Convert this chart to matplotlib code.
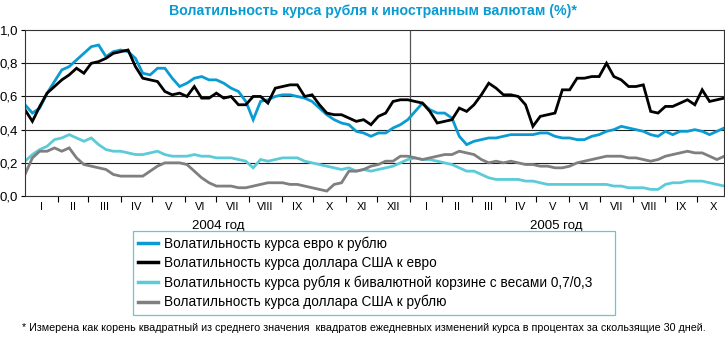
import matplotlib
matplotlib.use('Agg')
import matplotlib.dates as mdates
import matplotlib.pyplot as plt
import numpy as np
import pandas as pd

plt.rcParams['font.family'] = ['Liberation Sans', 'DejaVu Sans']

# weekly readings, Jan 2004 - Oct 2005
weeks = pd.date_range('2004-01-01', periods=96, freq='7D')

eur_rub = [0.55, 0.50, 0.53, 0.62, 0.69, 0.76, 0.78, 0.82, 0.86, 0.90,
           0.91, 0.84, 0.87, 0.88, 0.87, 0.83, 0.74, 0.73, 0.77, 0.77,
           0.71, 0.66, 0.68, 0.71, 0.72, 0.70, 0.70, 0.68, 0.65, 0.63,
           0.57, 0.46, 0.57, 0.58, 0.60, 0.61, 0.61, 0.60, 0.59, 0.57,
           0.53, 0.49, 0.46, 0.44, 0.43, 0.39, 0.38, 0.36, 0.38, 0.38,
           0.41, 0.43, 0.46, 0.51, 0.56, 0.52, 0.50, 0.50, 0.47, 0.36,
           0.31, 0.33, 0.34, 0.35, 0.35, 0.36, 0.37, 0.37, 0.37, 0.37,
           0.38, 0.38, 0.36, 0.35, 0.35, 0.34, 0.34, 0.36, 0.37, 0.39,
           0.40, 0.42, 0.41, 0.40, 0.39, 0.37, 0.36, 0.39, 0.37, 0.39,
           0.39, 0.40, 0.39, 0.37, 0.39, 0.41]

usd_eur = [0.52, 0.45, 0.54, 0.62, 0.66, 0.70, 0.73, 0.77, 0.74, 0.80,
           0.81, 0.83, 0.86, 0.87, 0.88, 0.78, 0.71, 0.70, 0.69, 0.63,
           0.61, 0.62, 0.60, 0.66, 0.59, 0.59, 0.62, 0.59, 0.60, 0.55,
           0.55, 0.60, 0.60, 0.56, 0.65, 0.66, 0.67, 0.67, 0.60, 0.61,
           0.55, 0.50, 0.49, 0.49, 0.47, 0.45, 0.46, 0.43, 0.48, 0.50,
           0.57, 0.58, 0.58, 0.57, 0.56, 0.51, 0.44, 0.45, 0.46, 0.53,
           0.51, 0.55, 0.61, 0.68, 0.65, 0.61, 0.61, 0.60, 0.55, 0.42,
           0.48, 0.49, 0.50, 0.64, 0.64, 0.71, 0.71, 0.72, 0.72, 0.80,
           0.72, 0.70, 0.66, 0.66, 0.67, 0.51, 0.50, 0.54, 0.54, 0.56,
           0.58, 0.55, 0.64, 0.57, 0.58, 0.59]

basket = [0.21, 0.25, 0.28, 0.30, 0.34, 0.35, 0.37, 0.35, 0.33, 0.35,
          0.31, 0.28, 0.27, 0.27, 0.26, 0.25, 0.25, 0.26, 0.27, 0.25,
          0.24, 0.24, 0.24, 0.25, 0.24, 0.24, 0.23, 0.23, 0.23, 0.22,
          0.21, 0.17, 0.22, 0.21, 0.22, 0.23, 0.23, 0.23, 0.21, 0.20,
          0.19, 0.18, 0.17, 0.16, 0.17, 0.15, 0.16, 0.15, 0.16, 0.17,
          0.18, 0.20, 0.22, 0.23, 0.22, 0.22, 0.21, 0.20, 0.19, 0.17,
          0.15, 0.15, 0.13, 0.11, 0.10, 0.10, 0.10, 0.10, 0.09, 0.09,
          0.08, 0.07, 0.07, 0.07, 0.07, 0.07, 0.07, 0.07, 0.07, 0.07,
          0.06, 0.06, 0.05, 0.05, 0.05, 0.04, 0.04, 0.07, 0.08, 0.08,
          0.09, 0.09, 0.09, 0.08, 0.07, 0.06]

usd_rub = [0.13, 0.23, 0.27, 0.27, 0.29, 0.27, 0.29, 0.23, 0.19, 0.18,
           0.17, 0.16, 0.13, 0.12, 0.12, 0.12, 0.12, 0.15, 0.18, 0.20,
           0.20, 0.20, 0.19, 0.15, 0.11, 0.08, 0.06, 0.06, 0.06, 0.05,
           0.05, 0.06, 0.07, 0.08, 0.08, 0.08, 0.07, 0.07, 0.06, 0.05,
           0.04, 0.03, 0.07, 0.08, 0.15, 0.15, 0.16, 0.18, 0.19, 0.21,
           0.21, 0.24, 0.24, 0.23, 0.22, 0.23, 0.24, 0.25, 0.25, 0.27,
           0.26, 0.25, 0.22, 0.20, 0.21, 0.20, 0.21, 0.20, 0.19, 0.19,
           0.18, 0.18, 0.17, 0.17, 0.18, 0.20, 0.21, 0.22, 0.23, 0.24,
           0.24, 0.24, 0.23, 0.23, 0.22, 0.21, 0.22, 0.24, 0.25, 0.26,
           0.27, 0.26, 0.26, 0.24, 0.22, 0.24]

labels = ['Волатильность курса евро к рублю',
          'Волатильность курса доллара США к евро',
          'Волатильность курса рубля к бивалютной корзине с весами 0,7/0,3',
          'Волатильность курса доллара США к рублю']
colors = ['#0a9bd3', '#000000', '#5ccbd8', '#7f7f7f']
month_names = ['I', 'II', 'III', 'IV', 'V', 'VI', 'VII', 'VIII', 'IX', 'X', 'XI', 'XII',
               'I', 'II', 'III', 'IV', 'V', 'VI', 'VII', 'VIII', 'IX', 'X']
years = ['2004 год', '2005 год']

fig = plt.figure(figsize=(7.25, 3.38), dpi=100)
ax = fig.add_axes([0.0345, 0.42, 0.9645, 0.491])

for vals, lab, col in zip([eur_rub, usd_eur, basket, usd_rub], labels, colors):
    ax.plot(weeks, vals, color=col, lw=2.0, label=lab, solid_joinstyle='miter')

start = pd.Timestamp('2004-01-01')
end = weeks[-1]
ax.set_xlim(start, end)
ax.set_ylim(0, 1.0)

for y in [0.2, 0.4, 0.6, 0.8]:
    ax.axhline(y, color='#222222', lw=0.8, zorder=0)
ax.axvline(pd.Timestamp('2005-01-01'), color='#555555', lw=0.9, zorder=0)

for s in ax.spines.values():
    s.set_color('#333333')
    s.set_linewidth(0.8)

ax.set_yticks([0, 0.2, 0.4, 0.6, 0.8, 1.0])
ax.set_yticklabels(['0,0', '0,2', '0,4', '0,6', '0,8', '1,0'])
ax.tick_params(axis='y', length=3, width=0.8, labelsize=9.5, pad=2)

# month boundaries as minor ticks, month names centred between them
month_starts = pd.date_range('2004-01-01', '2005-11-01', freq='MS')
ax.set_xticks(month_starts[1:-1], minor=True)
ax.tick_params(axis='x', which='minor', length=4, width=0.8, direction='out')
centres = month_starts[:-1] + (month_starts[1:] - month_starts[:-1]) / 2
ax.set_xticks(centres)
ax.set_xticklabels(month_names, fontsize=8)
ax.tick_params(axis='x', which='major', length=0, pad=4)

ax.text(pd.Timestamp('2004-07-03'), -0.145, years[0], ha='center', va='top',
        fontsize=9.5, transform=ax.get_xaxis_transform())
ax.text(pd.Timestamp('2005-05-20'), -0.145, years[1], ha='center', va='top',
        fontsize=9.5, transform=ax.get_xaxis_transform())

fig.text(0.515, 0.968, 'Волатильность курса рубля к иностранным валютам (%)*',
         ha='center', va='center', fontsize=10.2, fontweight='bold', color='#0a9bd3')

leg = ax.legend(loc='upper left', bbox_to_anchor=(0.1835, 0.0805, 0.665, 0.236),
                bbox_transform=fig.transFigure, mode='expand', fontsize=9.8,
                handlelength=1.4, handletextpad=0.5, labelspacing=0.38,
                borderpad=0.4, borderaxespad=0, fancybox=False, framealpha=1)
leg.get_frame().set_edgecolor('#5ccbd8')
leg.get_frame().set_linewidth(0.9)
for h in leg.get_lines():
    h.set_linewidth(2.5)

fig.text(0.03, 0.03, '* Измерена как корень квадратный из среднего значения  квадратов '
         'ежедневных изменений курса в процентах за скользящие 30 дней.',
         ha='left', va='center', fontsize=7.75,
         family=['Liberation Sans Narrow', 'Liberation Sans'])

fig.savefig('out.png', dpi=100)
